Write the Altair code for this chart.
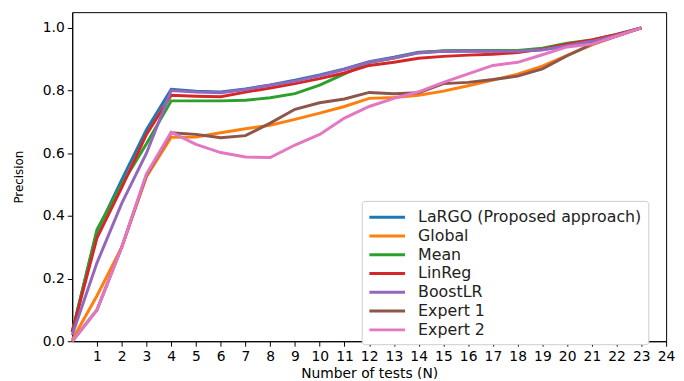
import altair as alt
import pandas as pd

N = list(range(24))
series_names = ["LaRGO (Proposed approach)", "Global", "Mean", "LinReg", "BoostLR", "Expert 1", "Expert 2"]
colors = ["#1f77b4", "#ff7f0e", "#2ca02c", "#d62728", "#9467bd", "#8c564b", "#e377c2"]

largo = [0.03, 0.35, 0.515, 0.675, 0.804, 0.798, 0.795, 0.805, 0.818, 0.833, 0.85, 0.869, 0.892, 0.906, 0.922, 0.925, 0.926, 0.926, 0.926, 0.93, 0.943, 0.957, 0.976, 1.0]
global_ = [0.005, 0.145, 0.30, 0.525, 0.651, 0.652, 0.665, 0.678, 0.689, 0.708, 0.728, 0.749, 0.775, 0.778, 0.785, 0.798, 0.815, 0.833, 0.852, 0.878, 0.912, 0.946, 0.974, 1.0]
mean = [0.03, 0.356, 0.50, 0.63, 0.767, 0.767, 0.767, 0.769, 0.777, 0.79, 0.817, 0.853, 0.889, 0.904, 0.921, 0.927, 0.928, 0.928, 0.928, 0.935, 0.951, 0.961, 0.979, 1.0]
linreg = [0.03, 0.33, 0.49, 0.66, 0.785, 0.782, 0.78, 0.795, 0.808, 0.822, 0.838, 0.856, 0.88, 0.89, 0.903, 0.909, 0.913, 0.916, 0.921, 0.932, 0.948, 0.961, 0.979, 1.0]
boostlr = [0.02, 0.25, 0.44, 0.60, 0.80, 0.795, 0.793, 0.803, 0.817, 0.83, 0.847, 0.867, 0.89, 0.904, 0.92, 0.925, 0.926, 0.925, 0.925, 0.93, 0.943, 0.957, 0.976, 1.0]
expert1 = [0.0, 0.10, 0.30, 0.53, 0.665, 0.66, 0.649, 0.656, 0.696, 0.74, 0.761, 0.773, 0.794, 0.79, 0.793, 0.822, 0.826, 0.835, 0.846, 0.869, 0.911, 0.948, 0.974, 1.0]
expert2 = [0.0, 0.10, 0.30, 0.534, 0.667, 0.628, 0.602, 0.588, 0.586, 0.626, 0.66, 0.712, 0.749, 0.775, 0.796, 0.826, 0.853, 0.88, 0.89, 0.914, 0.939, 0.948, 0.974, 1.0]

all_series = [largo, global_, mean, linreg, boostlr, expert1, expert2]
x_ticks = list(range(1, 25))
y_ticks = [0.0, 0.2, 0.4, 0.6, 0.8, 1.0]

rows = []
for i, (name, vals) in enumerate(zip(series_names, all_series)):
    for n, v in zip(N, vals):
        rows.append({"N": n, "Precision": v, "Method": name, "order": i})
df = pd.DataFrame(rows)

font = "DejaVu Sans"

chart = alt.Chart(df).mark_line(strokeWidth=3, strokeJoin="miter").encode(
    x=alt.X("N:Q", scale=alt.Scale(domain=[0, 24], nice=False, zero=False),
            axis=alt.Axis(values=x_ticks, title="Number of tests (N)", grid=False,
                          labelFontSize=14, titleFontSize=14, labelFont=font, titleFont=font,
                          tickSize=5, domainColor="black", tickColor="black", labelColor="black",
                          titleColor="black", titleFontWeight="normal", labelPadding=4, titlePadding=3,
                          labelFlush=False, labelOverlap=False)),
    y=alt.Y("Precision:Q", scale=alt.Scale(domain=[0, 1.05], nice=False),
            axis=alt.Axis(values=y_ticks, format=".1f", title="Precision", grid=False,
                          labelFontSize=14, titleFontSize=12, labelFont=font, titleFont=font,
                          tickSize=5, domainColor="black", tickColor="black", labelColor="black",
                          titleColor="black", titleFontWeight="normal", labelPadding=3, titlePadding=17,
                          labelFlush=False)),
    color=alt.Color("Method:N", scale=alt.Scale(domain=series_names, range=colors),
                    sort=series_names,
                    legend=alt.Legend(title=None, orient="none", legendX=293, legendY=191,
                                      symbolType="M-1,0H3.1", symbolSize=310, symbolStrokeWidth=3,
                                      labelFontSize=16, labelFont=font, labelColor="#222222",
                                      strokeColor="#cccccc", fillColor="white", cornerRadius=3,
                                      padding=6, rowPadding=0, labelOffset=30,
                                      labelLimit=400)),
    order=alt.Order("order:Q"),
    detail="Method:N",
).properties(width=601, height=333, padding={"left": 65, "top": 2, "right": 10, "bottom": 36},
             autosize=alt.AutoSizeParams(type="none")).configure_view(stroke="black", strokeWidth=1)

chart.save("out.html", embed_options={"renderer": "svg", "actions": False})
